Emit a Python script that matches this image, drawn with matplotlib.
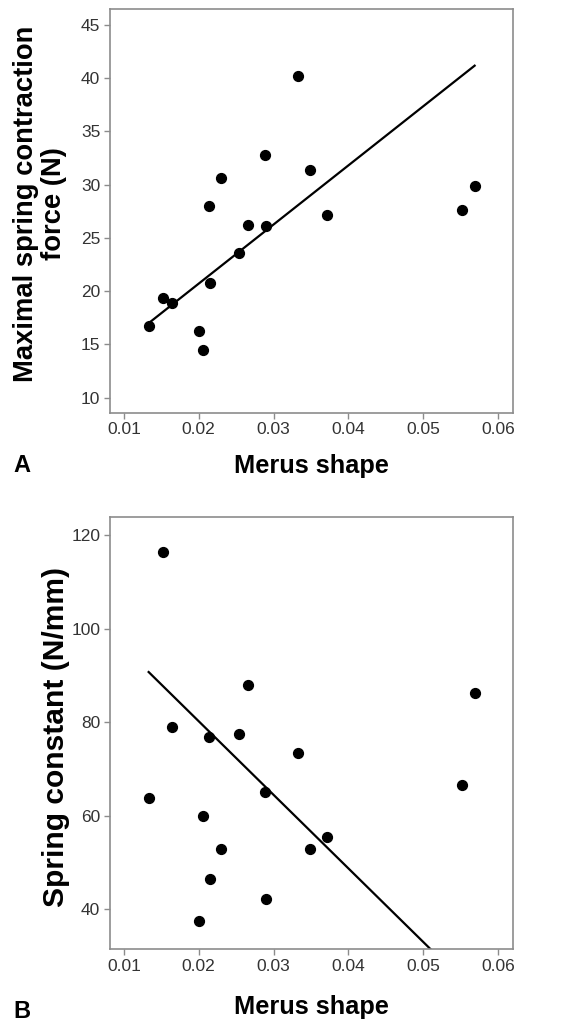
import numpy as np
import matplotlib
matplotlib.use("Agg")
import matplotlib.pyplot as plt

plt.rcParams['font.family'] = ['Liberation Sans', 'DejaVu Sans']

# Merus shape (same specimens in both panels)
merus_shape = [0.0133, 0.01526, 0.01647, 0.0201, 0.02062, 0.02147, 0.02138, 0.0230,
               0.0254, 0.0266, 0.0289, 0.0290, 0.03325, 0.0349, 0.0372, 0.0552, 0.0569]
# Panel A: maximal spring contraction force (N)
max_force = [16.7, 19.4, 18.9, 16.3, 14.45, 20.8, 28.0, 30.6,
             23.6, 26.2, 32.8, 26.1, 40.2, 31.4, 27.2, 27.6, 29.9]
# Panel B: spring constant (N/mm)
spring_k = [63.7, 116.4, 78.9, 37.5, 60.0, 46.5, 76.8, 52.8,
            77.5, 88.0, 65.0, 42.2, 73.5, 52.9, 55.4, 66.5, 86.3]
# regression lines (intercept, slope) as drawn in the figure
fit_a = (9.62, 554.6)
fit_b = (111.6, -1571.0)

x_ticks = [0.01, 0.02, 0.03, 0.04, 0.05, 0.06]
y_ticks_a = [10, 15, 20, 25, 30, 35, 40, 45]
y_ticks_b = [40, 60, 80, 100, 120]

fig = plt.figure(figsize=(5.67, 10.22), dpi=100)
ax_a = fig.add_axes([0.194, 0.5962, 0.711, 0.395])
ax_b = fig.add_axes([0.194, 0.0714, 0.711, 0.423])

frame_col = '#8c8c8c'
tick_col = '#333333'


def style(ax, yticks, ylim, ylabel, label_xy, ysize, xpad):
    ax.set_xlim(0.00813, 0.06205)
    ax.set_ylim(*ylim)
    ax.set_xticks(x_ticks)
    ax.set_xticklabels([f"{t:.2f}" for t in x_ticks])
    ax.set_yticks(yticks)
    for s in ax.spines.values():
        s.set_color(frame_col)
        s.set_linewidth(1.2)
    ax.tick_params(colors=frame_col, labelcolor=tick_col, labelsize=12.5,
                   length=4, width=1, direction='out', pad=3)
    ax.set_xlabel('Merus shape', fontsize=18.3, fontweight='bold', labelpad=xpad)
    ax.set_ylabel(ylabel, fontsize=ysize, fontweight='bold', linespacing=1.1)
    ax.yaxis.set_label_coords(*label_xy)


# Panel A
xa = np.array(merus_shape)
xl = np.array([xa.min(), xa.max()])
ax_a.scatter(merus_shape, max_force, s=50, color='black', zorder=3)
ax_a.plot(xl, fit_a[0] + fit_a[1] * xl, color='black', lw=1.6)
style(ax_a, y_ticks_a, (8.59, 46.5), 'Maximal spring contraction\nforce (N)',
      (-0.107, 0.517), 19.7, 12)

# Panel B
ax_b.scatter(merus_shape, spring_k, s=50, color='black', zorder=3)
ax_b.plot(xl, fit_b[0] + fit_b[1] * xl, color='black', lw=1.6)
style(ax_b, y_ticks_b, (31.5, 123.9), 'Spring constant (N/mm)',
      (-0.099, 0.49), 21.6, 15)

fig.text(0.023, 1 - 466 / 1022, 'A', fontsize=17, fontweight='bold', va='center')
fig.text(0.023, 1 - 1011 / 1022, 'B', fontsize=17, fontweight='bold', va='center')

fig.savefig('out.png', dpi=100)
